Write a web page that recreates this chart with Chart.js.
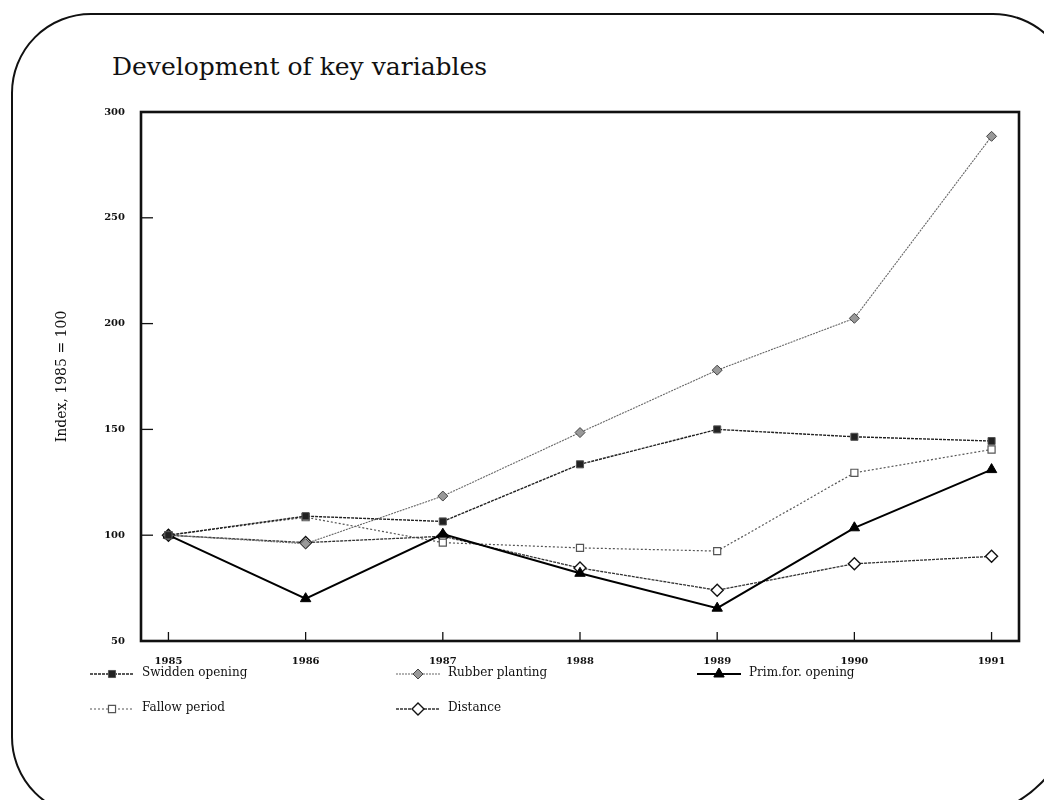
<!DOCTYPE html>
<html>
<head>
<meta charset="utf-8">
<script src="https://cdn.jsdelivr.net/npm/chart.js@4/dist/chart.umd.min.js"></script>
<style>
  body { margin: 0; background: #fff; width: 1044px; height: 800px; overflow: hidden; position: relative; }
  #frame { position: absolute; left: 11px; top: 13px; width: 1058px; height: 800px;
           border: 2px solid #111; border-radius: 80px 80px 110px 80px; }
  #title { position: absolute; left: 112px; top: 52px; font-family: "DejaVu Serif", serif;
           font-size: 25px; color: #111; white-space: nowrap; }
  #wrap { position: absolute; left: 0; top: 0; width: 1044px; height: 800px; }
</style>
</head>
<body>
<div id="frame"></div>
<div id="title">Development of key variables</div>
<div id="wrap"><canvas id="keyvars" width="1044" height="800"></canvas></div>
<script>
const years = [1985, 1986, 1987, 1988, 1989, 1990, 1991];
const yTicks = [50, 100, 150, 200, 250, 300];
const swidden = [100, 109, 106.5, 133.5, 150, 146.5, 144.5];
const rubber = [100, 96, 118.5, 148.5, 178, 202.5, 288.5];
const primFor = [100, 70, 100.5, 82, 65.5, 103.5, 131];
const fallow = [100, 108.5, 96.5, 94, 92.5, 129.5, 140.5];
const distance = [100, 96.5, 99.5, 84.5, 74, 86.5, 90];
const seriesNames = ['Swidden opening', 'Rubber planting', 'Prim.for. opening', 'Fallow period', 'Distance'];

function pairs(values) {
    return years.map(function (y, i) { return { x: y, y: values[i] }; });
}

// legend slots (layout only)
const legendPos = [[90, 674], [396, 674], [697, 674], [90, 709], [396, 709]];

const frameAndTicks = {
    id: 'frameAndTicks',
    beforeDatasetsDraw(chart) {
        const { ctx, chartArea: a, scales } = chart;
        ctx.save();
        ctx.strokeStyle = '#111';
        ctx.lineWidth = 1.3;
        yTicks.forEach(function (v) {
            if (v === 50 || v === 300) return;
            const py = scales.y.getPixelForValue(v);
            ctx.beginPath();
            ctx.moveTo(a.left, py);
            ctx.lineTo(a.left + 12, py);
            ctx.stroke();
        });
        years.forEach(function (v) {
            const px = scales.x.getPixelForValue(v);
            ctx.beginPath();
            ctx.moveTo(px, a.bottom);
            ctx.lineTo(px, a.bottom - 9);
            ctx.stroke();
        });
        ctx.lineWidth = 2.6;
        ctx.strokeRect(a.left, a.top, a.right - a.left, a.bottom - a.top);
        ctx.restore();
    },
    afterDraw(chart) {
        const ctx = chart.ctx;
        ctx.save();
        chart.data.datasets.forEach(function (ds, i) {
            const [x, y] = legendPos[i];
            ctx.strokeStyle = ds.borderColor;
            ctx.lineWidth = ds.borderWidth;
            ctx.setLineDash(ds.borderDash || []);
            ctx.beginPath();
            ctx.moveTo(x, y);
            ctx.lineTo(x + 44, y);
            ctx.stroke();
            ctx.setLineDash([]);
            ctx.fillStyle = ds.pointBackgroundColor;
            ctx.strokeStyle = ds.pointBorderColor;
            ctx.lineWidth = ds.pointBorderWidth;
            Chart.helpers.drawPoint(ctx, {
                pointStyle: ds.pointStyle, radius: ds.pointRadius, rotation: 0,
                borderWidth: ds.pointBorderWidth
            }, x + 22, y);
            ctx.fillStyle = '#111';
            ctx.font = '12px "DejaVu Serif", serif';
            ctx.textBaseline = 'middle';
            ctx.fillText(ds.label, x + 52, y - 1);
        });
        ctx.restore();
    }
};

const ctx = document.getElementById('keyvars').getContext('2d');
const chart = new Chart(ctx, {
    type: 'line',
    data: {
        datasets: [{
            label: seriesNames[0],
            data: pairs(swidden),
            borderColor: '#222',
            borderWidth: 1.4,
            borderDash: [3, 1],
            pointStyle: 'rect',
            pointRadius: 5,
            pointBackgroundColor: '#222',
            pointBorderColor: '#555',
            pointBorderWidth: 1
        }, {
            label: seriesNames[1],
            data: pairs(rubber),
            borderColor: '#666',
            borderWidth: 1.1,
            borderDash: [2, 1],
            pointStyle: 'rectRot',
            pointRadius: 5,
            pointBackgroundColor: '#999',
            pointBorderColor: '#444',
            pointBorderWidth: 1
        }, {
            label: seriesNames[2],
            data: pairs(primFor),
            borderColor: '#000',
            borderWidth: 2,
            pointStyle: 'triangle',
            pointRadius: 6,
            pointBackgroundColor: '#000',
            pointBorderColor: '#000',
            pointBorderWidth: 1
        }, {
            label: seriesNames[3],
            data: pairs(fallow),
            borderColor: '#555',
            borderWidth: 1.2,
            borderDash: [2, 2],
            pointStyle: 'rect',
            pointRadius: 5,
            pointBackgroundColor: '#fff',
            pointBorderColor: '#555',
            pointBorderWidth: 1.2
        }, {
            label: seriesNames[4],
            data: pairs(distance),
            borderColor: '#333',
            borderWidth: 1.3,
            borderDash: [3, 1],
            pointStyle: 'rectRot',
            pointRadius: 6,
            pointBackgroundColor: '#fff',
            pointBorderColor: '#111',
            pointBorderWidth: 1.4
        }]
    },
    options: {
        responsive: false,
        animation: false,
        layout: { padding: { left: 0, top: 112, right: 25, bottom: 129 } },
        plugins: {
            legend: { display: false },
            tooltip: { enabled: false }
        },
        scales: {
            x: {
                type: 'linear',
                min: 1984.8,
                max: 1991.2,
                afterFit: function (s) { s.height = 30; },
                afterBuildTicks: function (s) { s.ticks = years.map(function (v) { return { value: v }; }); },
                grid: { display: false, drawTicks: false },
                border: { display: false },
                ticks: {
                    padding: 14,
                    color: '#111',
                    font: { family: '"DejaVu Serif", serif', size: 10, weight: 'bold' },
                    callback: function (v) { return String(v); }
                }
            },
            y: {
                min: 50,
                max: 300,
                afterFit: function (s) { s.width = 141; },
                afterBuildTicks: function (s) { s.ticks = yTicks.map(function (v) { return { value: v }; }); },
                grid: { display: false, drawTicks: false },
                border: { display: false },
                ticks: {
                    padding: 16,
                    color: '#111',
                    font: { family: '"DejaVu Serif", serif', size: 10, weight: 'bold' }
                },
                title: {
                    display: true,
                    text: 'Index, 1985 = 100',
                    color: '#111',
                    padding: { top: 54 },
                    font: { family: '"DejaVu Serif", serif', size: 14 }
                }
            }
        }
    },
    plugins: [frameAndTicks]
});
</script>
</body>
</html>
